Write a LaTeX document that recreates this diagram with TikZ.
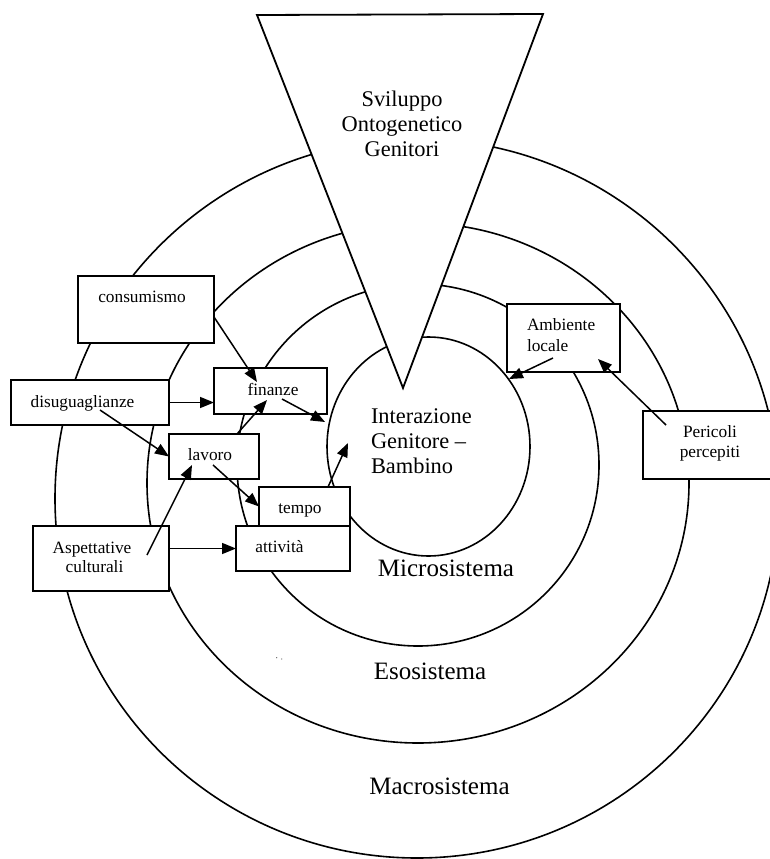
\documentclass[tikz,border=0pt]{standalone}
\usepackage{fontspec}
\setmainfont{Liberation Serif}
\usetikzlibrary{arrows.meta,shapes.geometric}
\newcommand\fsS{\fontsize{17.3}{20}\selectfont}
\newcommand\fsM{\fontsize{22.4}{25}\selectfont}
\newcommand\fsL{\fontsize{25}{28}\selectfont}
\begin{document}
\begin{tikzpicture}[x=1pt,y=-1pt,
  ring/.style={draw=black, line width=1.6pt, ellipse, inner sep=0pt, outer sep=0pt},
  boxn/.style={draw=black, fill=white, line width=2pt, inner sep=0pt, outer sep=0pt, rectangle},
  txt/.style={inner sep=0pt, outer sep=0pt, font=\fsS, anchor=base},
  txtl/.style={inner sep=0pt, outer sep=0pt, font=\fsS, anchor=base west},
  midtxt/.style={inner sep=0pt, outer sep=0pt, font=\fsM, anchor=base},
  bigtxt/.style={inner sep=0pt, outer sep=0pt, font=\fsL, anchor=base},
  arr/.style={draw=black, line width=1.5pt, -{Triangle[length=14pt,width=11pt]}}]
\useasboundingbox (0,0) rectangle (770,859);
\fill[white] (0,0) rectangle (770,859);
\clip (0,0) rectangle (770,859);

% rings
\node[ring, minimum width=724pt, minimum height=719pt] (macro) at (417,498.5) {};
\node[ring, minimum width=542pt, minimum height=520pt] (eso) at (418,483) {};
\node[ring, minimum width=362pt, minimum height=362pt] (micro) at (418,465) {};
\node[ring, minimum width=203pt, minimum height=219pt] (inner) at (428.5,446.5) {};

% triangle
\coordinate (triL) at (257,15);
\coordinate (triR) at (543,14);
\coordinate (triA) at (403,388);
\draw[line width=1.8pt, fill=white, line join=miter] (triL) -- (triR) -- (triA) -- cycle;

% boxes
\node[boxn, minimum width=136pt, minimum height=67pt] (cons) at (146,309.5) {};
\node[boxn, minimum width=158pt, minimum height=45pt] (dis) at (90,402.5) {};
\node[boxn, minimum width=113pt, minimum height=46pt] (fin) at (270.5,391) {};
\node[boxn, minimum width=90pt, minimum height=45pt] (lav) at (214,456.5) {};
\node[boxn, minimum width=91pt, minimum height=39pt] (tmp) at (304.5,506.5) {};
\node[boxn, minimum width=114pt, minimum height=45pt] (att) at (293,548.5) {};
\node[boxn, minimum width=136pt, minimum height=65pt] (asp) at (101,558.5) {};
\node[boxn, minimum width=113pt, minimum height=68pt] (amb) at (563.5,338) {};
\node[boxn, minimum width=132pt, minimum height=68pt] (per) at (709,445) {};

% box texts
\node[txt] (tcons) at (142,302) {consumismo};
\node[txt] (tdis) at (82.5,407) {disuguaglianze};
\node[txt] (tfin) at (273,395) {finanze};
\node[txt] (tlav) at (210,460) {lavoro};
\node[txt] (ttmp) at (300,513) {tempo};
\node[txt] (tatt) at (279.5,552) {attività};
\node[txt] (tasp1) at (92,553) {Aspettative};
\node[txt] (tasp2) at (94.5,572) {culturali};
\node[txtl] (tamb1) at (527,330) {Ambiente};
\node[txtl] (tamb2) at (527,351) {locale};
\node[txt] (tper1) at (710,437) {Pericoli};
\node[txt] (tper2) at (710,457) {percepiti};

% large texts
\node[midtxt] (ts1) at (402,106) {Sviluppo};
\node[midtxt] (ts2) at (402,131) {Ontogenetico};
\node[midtxt] (ts3) at (402,156) {Genitori};
\node[midtxt, anchor=base west] (ti1) at (371,423.5) {Interazione};
\node[midtxt, anchor=base west] (ti2) at (371,448.5) {Genitore –};
\node[midtxt, anchor=base west] (ti3) at (371,473.5) {Bambino};
\node[bigtxt] (lmicro) at (446,576) {Microsistema};
\node[bigtxt] (leso) at (430,679) {Esosistema};
\node[bigtxt] (lmacro) at (439.5,794) {Macrosistema};

% specks
\fill[black!60] (276.7,657.7) circle (0.7pt);
\fill[black!60] (281.7,659) circle (0.6pt);

% arrows
\coordinate (a1s) at (214,317); \coordinate (a1e) at (257,382);
\draw[arr] (a1s) -- (a1e);
\draw[arr] (dis.east) -- (dis.east -| fin.west);
\coordinate (a3s) at (100,410);
\draw[arr] (a3s) -- (lav.west);
\coordinate (a4s) at (237,434); \coordinate (a4e) at (267,400);
\draw[arr] (a4s) -- (a4e);
\coordinate (a5s) at (282,399); \coordinate (a5e) at (325,422);
\draw[arr] (a5s) -- (a5e);
\coordinate (a6s) at (213,465);
\draw[arr] (a6s) -- (tmp.west);
\coordinate (a7s) at (147,555); \coordinate (a7e) at (192,465);
\draw[arr] (a7s) -- (a7e);
\draw[arr] (asp.east |- att.west) -- (att.west);
\coordinate (a9s) at (328,487); \coordinate (a9e) at (348,443);
\draw[arr] (a9s) -- (a9e);
\coordinate (a10s) at (553,358); \coordinate (a10e) at (509,379);
\draw[arr] (a10s) -- (a10e);
\coordinate (a11s) at (666,425); \coordinate (a11e) at (598,359);
\draw[arr] (a11s) -- (a11e);
\end{tikzpicture}
\end{document}
